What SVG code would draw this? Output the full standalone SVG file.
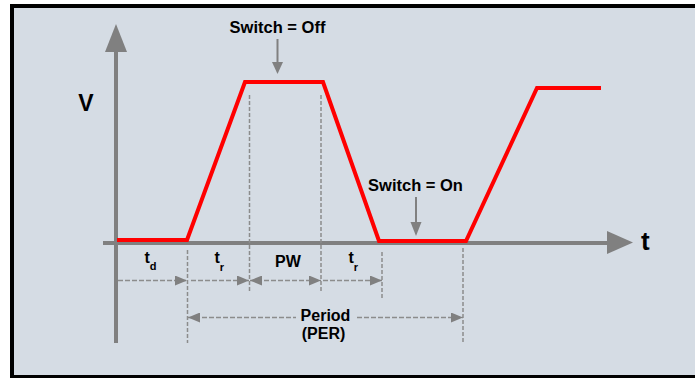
<svg xmlns="http://www.w3.org/2000/svg" width="695" height="378" viewBox="0 0 695 378">
<defs>
<style>
.lbl{font-family:"Liberation Sans",Arial,sans-serif;font-weight:bold;fill:#000;}
.axis{stroke:#808080;stroke-width:4;fill:none;}
.ahead{fill:#808080;}
.guide{stroke:#8c8c8c;stroke-width:1.5;stroke-dasharray:4 2;fill:none;}
.dim{stroke:#8c8c8c;stroke-width:1.5;stroke-dasharray:5 2;fill:none;}
.pulse{stroke:#ff0000;stroke-width:4;fill:none;stroke-linejoin:miter;}
.callout{stroke:#808080;stroke-width:2;fill:none;}
</style>
<marker id="dimArrow" markerUnits="userSpaceOnUse" markerWidth="12" markerHeight="10" refX="12" refY="5" orient="auto-start-reverse">
<path d="M0,0 L12,5 L0,10 Z" fill="#808080"/>
</marker>
</defs>
<rect x="0" y="0" width="695" height="378" fill="#ffffff"/>
<rect x="12" y="6" width="690" height="371" fill="#d5dce4" stroke="#000" stroke-width="4"/>

<g id="axes">
<line class="axis" x1="116" y1="52" x2="116" y2="343"/>
<polygon class="ahead" points="105,52 127,52 116,24"/>
<line class="axis" x1="103" y1="243" x2="608" y2="243"/>
<polygon class="ahead" points="607,231 607,254 633,242.5"/>
<text class="lbl" x="86" y="111" font-size="23" text-anchor="middle">V</text>
<text class="lbl" x="641" y="250" font-size="26">t</text>
</g>

<g id="guides">
<line class="guide" x1="187.5" y1="250" x2="187.5" y2="343"/>
<line class="guide" x1="249.5" y1="95" x2="249.5" y2="293"/>
<line class="guide" x1="321" y1="95" x2="321" y2="293"/>
<line class="guide" x1="382" y1="252" x2="382" y2="298"/>
<line class="guide" x1="463" y1="248" x2="463" y2="343"/>
</g>

<g id="pulse">
<polyline class="pulse" points="117,240 187,240 245,82 323,82 379,241 466,241 537,88 601,88"/>
</g>

<g id="connectors">
<line class="dim" x1="118" y1="280.5" x2="187" y2="280.5" marker-end="url(#dimArrow)"/>
<line class="dim" x1="191" y1="280.5" x2="249" y2="280.5" marker-end="url(#dimArrow)"/>
<line class="dim" x1="250" y1="280.5" x2="321" y2="280.5" marker-start="url(#dimArrow)" marker-end="url(#dimArrow)"/>
<line class="dim" x1="323" y1="280.5" x2="382" y2="280.5" marker-end="url(#dimArrow)"/>
<line class="dim" x1="188" y1="317.5" x2="296" y2="317.5" marker-start="url(#dimArrow)"/>
<line class="dim" x1="357" y1="317.5" x2="463" y2="317.5" marker-end="url(#dimArrow)"/>
<line class="callout" x1="277.5" y1="39" x2="277.5" y2="63"/>
<polygon class="ahead" points="272,62 283,62 277.5,74"/>
<line class="callout" x1="416" y1="197" x2="416" y2="223"/>
<polygon class="ahead" points="410.5,222 421.5,222 416,236"/>
</g>

<g id="label-switch-off">
<text class="lbl" x="277.5" y="33" font-size="16.5" text-anchor="middle">Switch = Off</text>
</g>
<g id="label-switch-on">
<text class="lbl" x="415.5" y="190.5" font-size="16.5" text-anchor="middle">Switch = On</text>
</g>
<g id="label-td">
<text class="lbl" x="144.5" y="262.5" font-size="16">t<tspan font-size="11" dy="7">d</tspan></text>
</g>
<g id="label-tr1">
<text class="lbl" x="214.5" y="262.5" font-size="16">t<tspan font-size="11" dy="8">r</tspan></text>
</g>
<g id="label-pw">
<text class="lbl" x="288" y="266.5" font-size="16" text-anchor="middle">PW</text>
</g>
<g id="label-tr2">
<text class="lbl" x="348.5" y="262.5" font-size="16">t<tspan font-size="11" dy="8">r</tspan></text>
</g>
<g id="label-period">
<text class="lbl" x="325.5" y="320.5" font-size="16" text-anchor="middle">Period</text>
<text class="lbl" x="323.5" y="338.5" font-size="16" text-anchor="middle">(PER)</text>
</g>
</svg>
